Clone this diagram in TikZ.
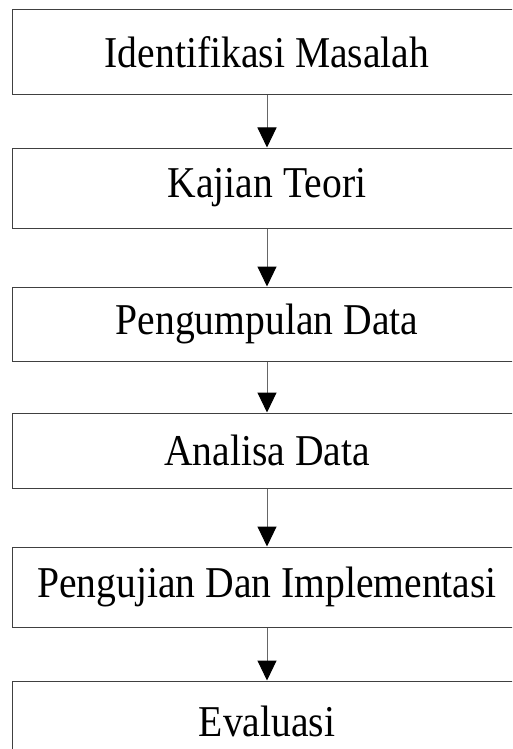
\documentclass[tikz,border=0pt]{standalone}
\usepackage{fontspec}
\setmainfont{Liberation Serif}[FakeStretch = 0.9]
\usetikzlibrary{arrows.meta}

\begin{document}
\begin{tikzpicture}[x=1pt, y=1pt]
	\tikzstyle{stageStyle}=[shape = rectangle, draw = black!75, line width = 1pt, minimum width = 510pt, inner sep = 0pt, font = \fontsize{44}{52}\selectfont]
	\tikzstyle{flowStyle}=[draw = black!60, line width = 1pt, -{Triangle[width = 19pt, length = 20pt, color = black]}]
	\clip (0,0) rectangle (512,-749);
	\node[stageStyle, minimum height = 85pt] (b0) at (267,-52.5) {Identifikasi Masalah};
	\node[stageStyle, minimum height = 80pt] (b1) at (267,-188) {Kajian Teori};
	\node[stageStyle, minimum height = 74pt] (b2) at (267,-324) {Pengumpulan Data};
	\node[stageStyle, minimum height = 75pt] (b3) at (267,-450.5) {Analisa Data};
	\node[stageStyle, minimum height = 80pt] (b4) at (267,-587) {Pengujian Dan Implementasi};
	\node[stageStyle, minimum height = 80pt] (b5) at (267,-721) {Evaluasi};
	\draw[flowStyle] (b0) -- (b1);
	\draw[flowStyle] (b1) -- (b2);
	\draw[flowStyle] (b2) -- (b3);
	\draw[flowStyle] (b3) -- (b4);
	\draw[flowStyle] (b4) -- (b5);
\end{tikzpicture}
\end{document}
